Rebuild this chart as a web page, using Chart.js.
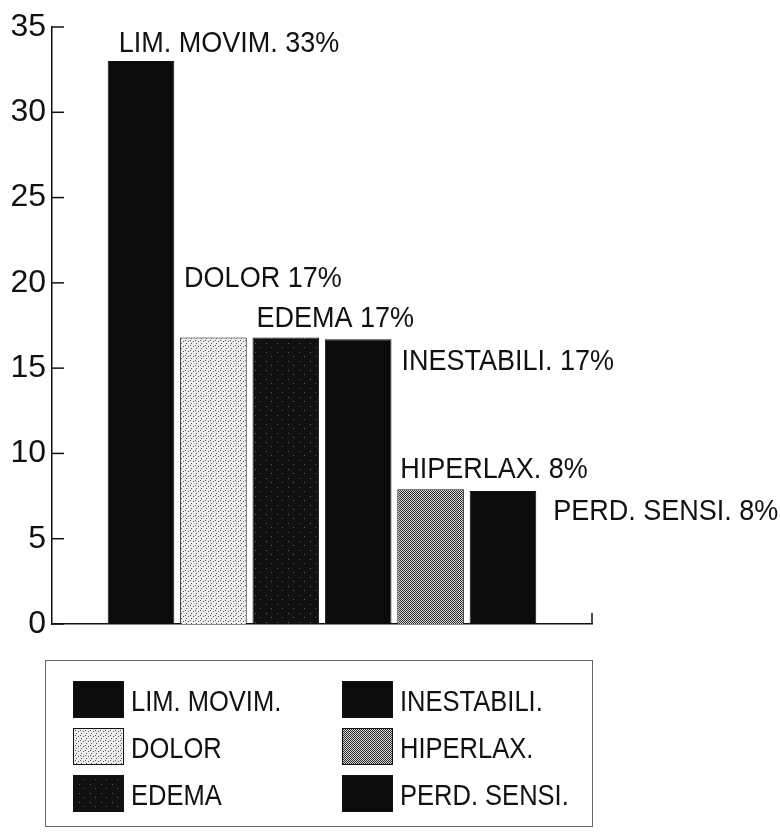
<!DOCTYPE html>
<html><head><meta charset="utf-8">
<script src="https://cdn.jsdelivr.net/npm/chart.js@4/dist/chart.umd.min.js"></script>
<style>html,body{margin:0;padding:0;background:#fff}#wrap{width:780px;height:838px;position:relative}</style>
</head><body><div id="wrap"><canvas id="c" width="780" height="838"></canvas></div>
<script>
// ---- data ----
const categories = ['LIM. MOVIM.', 'DOLOR', 'EDEMA', 'INESTABILI.', 'HIPERLAX.', 'PERD. SENSI.'];
const values = [33, 16.8, 16.8, 16.7, 7.9, 7.8];
const percentLabels = ['33%', '17%', '17%', '17%', '8%', '8%'];
const yTicks = [0, 5, 10, 15, 20, 25, 30, 35];
const legendOrder = [0, 1, 2, 3, 4, 5]; // column-major: 3 per column

// ---- styles ----
const FONT = "'Liberation Sans', Arial, Helvetica, sans-serif";
function makePattern(w, h, bg, fg, pts) {
  const c = document.createElement('canvas'); c.width = w; c.height = h;
  const g = c.getContext('2d');
  g.fillStyle = bg; g.fillRect(0, 0, w, h);
  g.fillStyle = fg; pts.forEach(p => g.fillRect(p[0], p[1], 1, 1));
  return g.createPattern(c, 'repeat');
}
const fills = [
  '#0b0b0b',
  makePattern(5, 5, '#ececec', '#555', [[0,0],[3,1],[1,3]]),
  makePattern(11, 9, '#111', '#5a5a5a', [[2,1],[7,5]]),
  '#0b0b0b',
  makePattern(2, 2, '#d8d8d8', '#2a2a2a', [[0,0],[1,1]]),
  '#0b0b0b'
];
// label placement relative to each bar: anchor side, dx, dy(baseline from bar top)
const labelPlace = [
  {side: 'left', dx: 11, dy: -9},
  {side: 'left', dx: 4, dy: -50},
  {side: 'left', dx: 4, dy: -10},
  {side: 'right', dx: 10, dy: 31},
  {side: 'left', dx: 3, dy: -11},
  {side: 'right', dx: 17, dy: 29}
];
const legendStyle = {left: 45, top: 660, right: 592, bottom: 826,
  colX: [73, 342], rowY: [681, 728, 775], sw: 51, sh: 37, textGap: 7};

function drawText(g, text, x, y, size, sx) {
  g.save();
  g.translate(x, y);
  g.scale(sx, 1);
  g.font = size + 'px ' + FONT;
  g.fillText(text, 0, 0);
  g.restore();
}

const labelPlugin = {
  id: 'barLabels',
  afterDatasetsDraw(chart) {
    const g = chart.ctx;
    const meta = chart.getDatasetMeta(0);
    g.save();
    g.fillStyle = '#111';
    g.textAlign = 'left';
    g.textBaseline = 'alphabetic';
    meta.data.forEach((bar, i) => {
      const p = bar.getProps(['x', 'y', 'width'], true);
      const pl = labelPlace[i];
      const baseX = pl.side === 'left' ? p.x - p.width / 2 : p.x + p.width / 2;
      drawText(g, categories[i] + ' ' + percentLabels[i], baseX + pl.dx, p.y + pl.dy, 30, 0.9);
    });
    g.restore();
  }
};

const axisPlugin = {
  id: 'axisTicks',
  afterDraw(chart) {
    const g = chart.ctx;
    const ys = chart.scales.y;
    const ca = chart.chartArea;
    g.save();
    g.strokeStyle = '#111';
    g.lineWidth = 1.5;
    ys.ticks.forEach(t => {
      const py = ys.getPixelForValue(t.value);
      g.beginPath(); g.moveTo(ca.left, py); g.lineTo(ca.left + 12, py); g.stroke();
    });
    g.beginPath(); g.moveTo(ca.right, ca.bottom); g.lineTo(ca.right, ca.bottom - 11); g.stroke();
    // legend
    const L = legendStyle;
    g.strokeStyle = '#666'; g.lineWidth = 1;
    g.strokeRect(L.left + 0.5, L.top + 0.5, L.right - L.left, L.bottom - L.top);
    g.textBaseline = 'alphabetic';
    legendOrder.forEach((idx, k) => {
      const col = Math.floor(k / 3), row = k % 3;
      const x = L.colX[col], y = L.rowY[row];
      g.fillStyle = fills[idx];
      g.fillRect(x, y, L.sw, L.sh);
      g.strokeStyle = '#111'; g.lineWidth = 1;
      g.strokeRect(x + 0.5, y + 0.5, L.sw - 1, L.sh - 1);
      g.fillStyle = '#111';
      drawText(g, categories[idx], x + L.sw + L.textGap, y + L.sh / 2 + 11, 29, 0.88);
    });
    g.restore();
  }
};

new Chart(document.getElementById('c'), {
  type: 'bar',
  data: {
    labels: categories,
    datasets: [{
      data: categories.map((c, i) => ({x: i, y: values[i]})),
      backgroundColor: fills,
      borderColor: '#111',
      borderWidth: 1,
      barPercentage: 0.92,
      categoryPercentage: 1
    }]
  },
  options: {
    responsive: false,
    animation: false,
    devicePixelRatio: 1,
    layout: {padding: {left: 0, right: 188, top: 27, bottom: 214}},
    plugins: {legend: {display: false}, tooltip: {enabled: false}},
    scales: {
      x: {
        type: 'linear', min: -1.23, max: 6.23, offset: false,
        grid: {display: false, drawTicks: false, offset: false},
        ticks: {display: false},
        border: {display: true, color: '#111', width: 1.5},
        afterFit: s => { s.height = 0; }
      },
      y: {
        min: 0, max: 35,
        afterBuildTicks: s => { s.ticks = yTicks.map(v => ({value: v})); },
        grid: {display: false, drawTicks: false},
        border: {display: true, color: '#111', width: 1.5},
        ticks: {color: '#111', font: {family: FONT, size: 32}, padding: 6},
        afterFit: s => { s.width = 52; }
      }
    }
  },
  plugins: [labelPlugin, axisPlugin]
});
</script>
</body></html>
